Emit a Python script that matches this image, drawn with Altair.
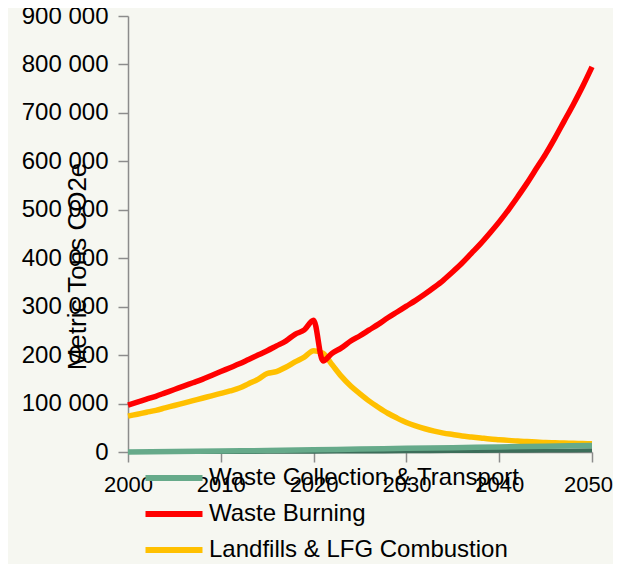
import altair as alt
import pandas as pd

# ---- data (in thousands of metric tons CO2e) ----
years = list(range(2000, 2051))

burning_k = [97, 103, 109, 115, 122, 129, 136, 143, 150, 158,
             166, 174, 182, 191, 200, 209, 219, 229, 243, 252,
             272, 188, 204, 215, 229, 240, 252, 264, 277, 289,
             301, 313, 326, 340, 355, 372, 390, 410, 430, 452,
             475, 500, 527, 555, 585, 615, 648, 683, 718, 755, 795]

landfill_k = [74, 78, 82, 86, 91, 96, 101, 106, 111, 116,
              121, 126, 132, 141, 150, 162, 166, 175, 186, 196,
              209, 204, 180, 156, 136, 120, 105, 92, 80, 70,
              61, 54, 48, 43, 39, 36, 33, 31, 29, 27,
              25.5, 24, 22.5, 21.5, 20.5, 19.5, 19, 18.5, 18, 17.5, 17]

collect_years = [2000, 2005, 2010, 2015, 2020, 2025, 2030, 2035, 2040, 2045, 2050]
collect_k = [0, 1, 2, 3, 4.5, 6, 7.5, 9, 10.5, 12, 13.4]
other_k = [0, 0, 0.1, 0.3, 0.6, 1.0, 1.4, 1.9, 2.4, 3.0, 3.5]

series_order = ["Waste Collection & Transport", "Waste Burning", "Landfills & LFG Combustion"]
series_colors = ["#66aa8a", "#ff0000", "#ffc000"]
y_ticks = [0, 100000, 200000, 300000, 400000, 500000, 600000, 700000, 800000, 900000]
x_ticks = [2000, 2010, 2020, 2030, 2040, 2050]

rows = []
for yr, v in zip(years, landfill_k):
    rows.append({"year": yr, "value": v * 1000, "series": series_order[2]})
for yr, v in zip(years, burning_k):
    rows.append({"year": yr, "value": v * 1000, "series": series_order[1]})
for yr, v in zip(collect_years, collect_k):
    rows.append({"year": yr, "value": v * 1000, "series": series_order[0]})
df = pd.DataFrame(rows)

df_other = pd.DataFrame({"year": collect_years, "value": [v * 1000 for v in other_k]})

FONT = "Liberation Sans"

x_enc = alt.X(
    "year:Q",
    scale=alt.Scale(domain=[2000, 2050], nice=False, zero=False),
    axis=alt.Axis(
        values=x_ticks, format="d", title=None, grid=False,
        labelFontSize=22, labelFont=FONT, labelColor="black",
        labelPadding=12, tickSize=10, tickColor="#8c8c8c", tickWidth=1.5,
        domainColor="#8c8c8c", domainWidth=1.5, labelFlush=False,
        labelOffset={"condition": {"test": "datum.value == 2050", "value": -4}, "value": 0},
    ),
)
y_enc = alt.Y(
    "value:Q",
    scale=alt.Scale(domain=[0, 900000], nice=False),
    axis=alt.Axis(
        values=y_ticks,
        labelExpr="replace(format(datum.value, ','), regexp(',', 'g'), ' ')",
        grid=False, labelFontSize=24, labelFont=FONT, labelColor="black",
        labelPadding=10, tickSize=10, tickColor="#8c8c8c", tickWidth=1.5,
        domainColor="#8c8c8c", domainWidth=1.5,
        title="Metric Tons CO2e", titleFontSize=26, titleFont=FONT,
        titleFontWeight="normal", titleColor="black",
        titleX=-51, titleY=250, titleAngle=270,
        titleAlign="center", titleBaseline="middle", labelFlush=False,
    ),
)

other_line = alt.Chart(df_other).mark_line(
    color="#3c6e5a", strokeWidth=4, interpolate="monotone"
).encode(x=x_enc, y=y_enc)

main_lines = alt.Chart(df).mark_line(strokeWidth=5.5, interpolate="monotone").encode(
    x=x_enc,
    y=y_enc,
    color=alt.Color(
        "series:N",
        scale=alt.Scale(domain=series_order, range=series_colors),
        legend=alt.Legend(
            title=None, orient="none", legendX=34, legendY=450,
            direction="vertical", symbolType="M-4,0H4", symbolSize=203,
            symbolStrokeWidth=6, labelFontSize=24, labelFont=FONT,
            labelColor="black", labelOffset=23, rowPadding=12, padding=0,
            labelLimit=500,
        ),
    ),
    detail="series:N",
)

chart = alt.layer(other_line, main_lines).properties(
    width=464, height=436,
    autosize=alt.AutoSizeParams(type="none"),
    padding={"left": 120, "top": 8, "right": 21, "bottom": 112},
).configure(background="#f6f7f1").configure_view(stroke=None)

chart.save("out.html", embed_options={"renderer": "svg", "actions": False})
